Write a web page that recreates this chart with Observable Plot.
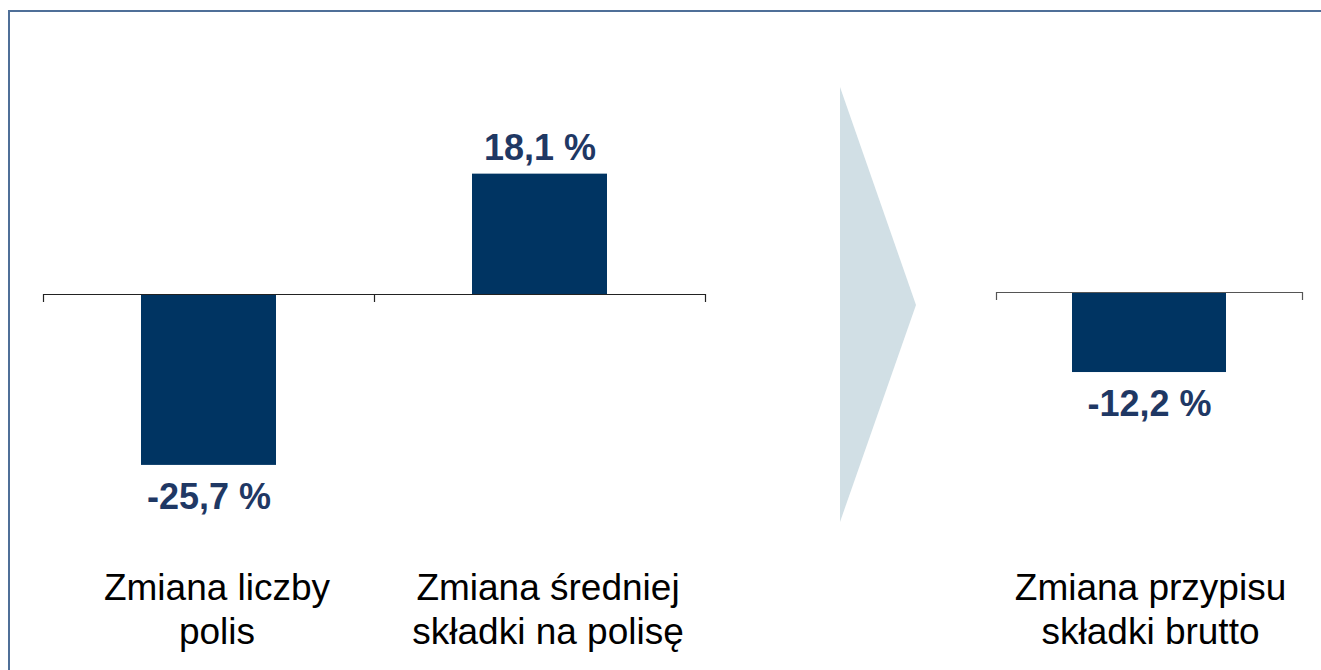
<!DOCTYPE html>
<html>
<head>
<meta charset="utf-8">
<script src="https://cdn.jsdelivr.net/npm/d3@7"></script>
<script src="https://cdn.jsdelivr.net/npm/@observablehq/plot@0.6"></script>
<style>
  html, body { margin: 0; padding: 0; background: #fff; }
  #stage { position: relative; width: 1321px; height: 670px; overflow: hidden; background: #fff;
           font-family: "Liberation Sans", Arial, sans-serif; }
  #frame { position: absolute; left: 8px; top: 10px; right: -10px; bottom: -10px;
           border-top: 2px solid #4f6f98; border-left: 2px solid #4f6f98; }
  #arrow { position: absolute; left: 0; top: 0; }
  #left { position: absolute; left: 0; top: 0; }
  #right { position: absolute; left: 940px; top: 0; }
</style>
</head>
<body>
<div id="stage">
  <div id="frame"></div>
  <svg id="arrow" width="1321" height="670"><polygon points="840,87 916,305 840,522" fill="#d1dfe5"></polygon></svg>
  <div id="left"></div>
  <div id="right"></div>
</div>
<script>
// ---- data ----
const leftCategories = ["Zmiana liczby\npolis", "Zmiana średniej\nskładki na polisę"];
const leftValues = [-25.7, 18.1];
const rightCategories = ["Zmiana przypisu\nskładki brutto"];
const rightValues = [-12.2];

const barColor = "#003462";
const labelColor = "#1f3864";
const font = "Liberation Sans, Arial, sans-serif";

function fmt(v) { return v.toFixed(1).replace(".", ",") + " %"; }

function panel({categories, values, width, marginLeft, marginRight, yDomain, inset, axisColor, labelDx}) {
  const data = categories.map((c, i) => ({c, i, v: values[i]}));
  const n = categories.length;
  return Plot.plot({
    width, height: 670,
    marginLeft, marginRight, marginTop: 0, marginBottom: 0,
    style: {background: "transparent", fontFamily: font, overflow: "visible"},
    x: {domain: [0, n], axis: null},
    y: {domain: yDomain, axis: null},
    marks: [
      Plot.rectY(data, {x1: d => d.i, x2: d => d.i + 1, y1: 0, y2: "v", fill: barColor, insetLeft: inset, insetRight: inset}),
      Plot.ruleY([0], {stroke: axisColor, strokeWidth: 1.2}),
      Plot.ruleX(d3.range(n + 1), {x: d => d, y1: 0, y2: 0, insetBottom: -8, stroke: axisColor, strokeWidth: 1.2}),
      Plot.text(data.filter(d => d.v >= 0), {x: d => d.i + 0.5, y: "v", text: d => fmt(d.v), lineAnchor: "bottom", dy: -14,
        fill: labelColor, fontSize: 36, fontWeight: "bold", fontFamily: font}),
      Plot.text(data.filter(d => d.v < 0), {x: d => d.i + 0.5, y: "v", text: d => fmt(d.v), lineAnchor: "top", dy: 18,
        fill: labelColor, fontSize: 36, fontWeight: "bold", fontFamily: font}),
      Plot.text(data, {x: d => d.i + 0.5, frameAnchor: "bottom", text: "c", lineAnchor: "bottom", dx: labelDx, dy: -27, lineHeight: 1.17,
        fill: "#000", fontSize: 37, fontFamily: font})
    ]
  });
}

document.getElementById("left").append(panel({
  categories: leftCategories, values: leftValues,
  width: 740, marginLeft: 43, marginRight: 35,
  yDomain: [-376 / 6.65, 294 / 6.65], inset: 98, axisColor: "#222", labelDx: 8
}));

document.getElementById("right").append(panel({
  categories: rightCategories, values: rightValues,
  width: 381, marginLeft: 56, marginRight: 19,
  yDomain: [-378 / 6.56, 292 / 6.56], inset: 76, axisColor: "#555", labelDx: 1
}));
</script>
</body>
</html>
